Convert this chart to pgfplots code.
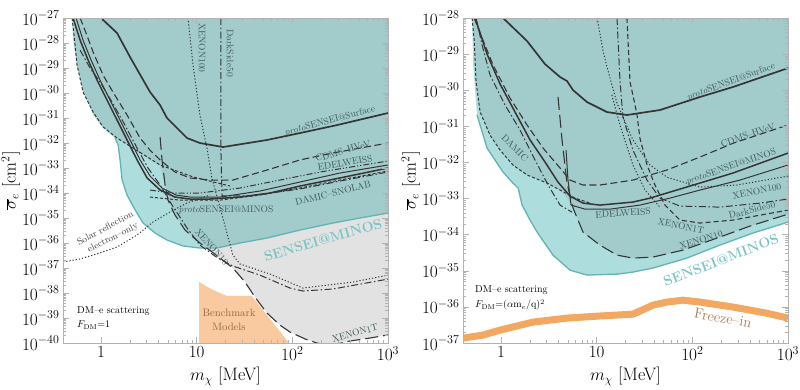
\documentclass[border=0pt]{standalone}
\usepackage{pgfplots}
\pgfplotsset{compat=1.18}
\definecolor{tealD}{HTML}{A2CCCC}
\definecolor{tealL}{HTML}{AEDDDD}
\definecolor{tealE}{HTML}{62B3B3}
\definecolor{grayR}{HTML}{E2E2E2}
\definecolor{orangeB}{HTML}{F9C9A0}
\definecolor{freeze}{HTML}{F2A860}
\definecolor{curve}{HTML}{353535}
\definecolor{lab}{HTML}{3E5858}
\definecolor{senseitxt}{HTML}{7CC4C4}
\definecolor{brownT}{HTML}{9A6A3A}
\definecolor{freezeT}{HTML}{A87A50}
\tikzset{
  solT/.style={draw=curve, line width=1.7pt},
  solt/.style={draw=curve, line width=1.0pt},
  dsh/.style={draw=curve, line width=1.1pt, dash pattern=on 7pt off 3.5pt},
  dshm/.style={draw=curve, line width=1.1pt, dash pattern=on 5pt off 3pt},
  fdsh/.style={draw=curve, line width=1.0pt, dash pattern=on 3pt off 2pt},
  ldsh/.style={draw=curve, line width=1.1pt, dash pattern=on 13pt off 5pt},
  ddot/.style={draw=curve, line width=1.0pt, dash pattern=on 7pt off 2.5pt on 1.5pt off 2.5pt},
  dddot/.style={draw=curve, line width=1.0pt, dash pattern=on 6pt off 2pt on 1.2pt off 2pt on 1.2pt off 2pt},
  dott/.style={draw=curve, line width=1.0pt, dash pattern=on 1.2pt off 2pt},
}
\begin{document}
\begin{tikzpicture}
\path[use as bounding box] (0pt,0pt) rectangle (800pt,389pt);
% ================= LEFT PANEL =================
\begin{axis}[at={(63pt,46pt)}, anchor=south west,
    scale only axis, width=325pt, height=325pt,
    xmode=log, ymode=log, xmin=0.4, xmax=1000,
    xtick={1,10,100,1000}, xticklabels={1,10,$10^2$,$10^3$},
    axis line style={gray!60, line width=0.6pt},
    tick style={gray!60, line width=0.5pt},
    major tick length=6pt, minor tick length=3pt,
    tick label style={font=\fontsize{17}{18}\selectfont, black},
    label style={font=\fontsize{18}{20}\selectfont},
    xlabel={$m_\chi$ [MeV]},
    ylabel={$\overline{\sigma}_e$ [cm$^2$]},
    ylabel shift=-5pt,
    axis on top,
  ymin=1e-40, ymax=1e-27,
  ytick={1e-40,1e-39,1e-38,1e-37,1e-36,1e-35,1e-34,1e-33,1e-32,1e-31,1e-30,1e-29,1e-28,1e-27}]
% benchmark models
\addplot[fill=orangeB, draw=none] coordinates {(10.6,9e-41) (10.6,2.75e-38) (12.5,1.9e-38) (14.8,1.32e-38) (20.7,7.6e-39) (37.8,7.6e-39) (94.4,9e-41)};
% gray region
\addplot[fill=grayR, draw=none] coordinates {(12.8,6.3e-37) (15.5,3.6e-37) (23.9,1e-37) (32.0,2.75e-38) (40.6,6.9e-39) (54.3,1.58e-39) (74.2,5.2e-40) (94.4,2.75e-40) (136,1.45e-40) (181,1e-40) (230,8.3e-41) (292,9.1e-41) (400,1.2e-40) (647,1.58e-40) (1000,2.1e-40) (1000,1e-34) (12.8,1e-34)};
% SENSEI@MINOS projection
\addplot[fill=tealL, draw=none] coordinates {(0.498,1e-27) (0.51,1.3e-28) (0.523,6.3e-29) (0.575,8.3e-30) (0.633,2.75e-30) (0.714,5.2e-31) (0.825,1.32e-31) (1.05,4e-32) (1.40,1.58e-32) (1.51,8.3e-33) (1.58,2.1e-33) (1.66,3.3e-34) (1.87,8.3e-35) (2.27,2.1e-35) (2.75,6.3e-36) (3.67,2.5e-36) (4.89,1.32e-36) (7.19,7.6e-37) (10.8,6.3e-37) (16.3,6.3e-37) (28.3,1e-36) (54.3,1.58e-36) (120,3.3e-36) (266,6.3e-36) (508,1e-35) (1000,1.58e-35) (1000,1e-27)};
% existing constraints
\addplot[fill=tealD, draw=none] coordinates {(0.51,1e-27) (0.535,8.3e-29) (0.561,1.32e-29) (0.648,1.1e-30) (0.825,1.74e-31) (1.05,4.4e-32) (1.47,1.58e-32) (2.16,6.3e-33) (3.25,2.1e-33) (4.14,1.32e-33) (4.67,2.1e-34) (5.01,5.2e-35) (5.93,1.32e-35) (7.55,3.3e-36) (10.8,1e-36) (12.8,6.3e-37) (16.3,6.3e-37) (28.3,1e-36) (54.3,1.58e-36) (120,3.3e-36) (266,6.3e-36) (508,1e-35) (1000,1.58e-35) (1000,1e-27)};
% SENSEI edge
\addplot[draw=tealE, line width=1.3pt] coordinates {(1.40,1.58e-32) (1.51,8.3e-33) (1.58,2.1e-33) (1.66,3.3e-34) (1.87,8.3e-35) (2.27,2.1e-35) (2.75,6.3e-36) (3.67,2.5e-36) (4.89,1.32e-36) (7.19,7.6e-37) (10.8,6.3e-37) (16.3,6.3e-37) (28.3,1e-36) (54.3,1.58e-36) (120,3.3e-36) (266,6.3e-36) (508,1e-35) (1000,1.58e-35)};
% protoSENSEI@Surface
\addplot[solT] coordinates {(1.0,1e-27) (1.47,2.5e-28) (2.01,2.75e-29) (3.25,1.1e-30) (4.14,3.3e-31) (4.89,1e-31) (6.22,4e-32) (7.92,1.58e-32) (10.8,1e-32) (18.8,6.9e-33) (54.3,1.32e-32) (120,2.5e-32) (292,5.2e-32) (1000,1.58e-31)};
% CDMS-HVeV
\addplot[dsh] coordinates {(0.604,1e-27) (0.697,2.5e-28) (0.825,4.4e-29) (1.05,5.2e-30) (1.33,1.1e-30) (1.87,1.32e-31) (2.56,1.58e-32) (3.25,5.2e-33) (4.14,2.1e-33) (5.93,6.9e-34) (8.51,4e-34) (13.8,3.3e-34) (23.9,3.3e-34) (54.3,8.3e-34) (120,2.1e-33) (266,4e-33) (1000,1e-32)};
% DAMIC
\addplot[fdsh] coordinates {(0.498,1e-27) (0.535,8.3e-29) (0.561,1.32e-29) (0.648,1.1e-30) (0.825,1.74e-31) (1.05,4.4e-32) (1.47,1.58e-32) (2.16,6.3e-33) (4.14,1.32e-33) (9.15,4.4e-34) (22.3,1.9e-34)};
% protoSENSEI@MINOS
\addplot[solT, line width=1.5pt] coordinates {(0.51,1e-27) (0.604,1.3e-28) (0.731,2.1e-29) (0.908,3.3e-30) (1.155,5.2e-31) (1.47,8.3e-32) (1.87,1.32e-32) (2.38,2.1e-33) (3.03,4e-34) (4.14,1.32e-34) (5.93,6.9e-35) (8.51,5.75e-35) (13.8,5.75e-35) (28.3,6.9e-35) (58.3,1e-34) (120,1.9e-34) (314,4e-34) (1000,1e-33)};
% second solid
\addplot[solt] coordinates {(0.548,1e-27) (0.648,1.3e-28) (0.786,2.1e-29) (0.976,3.3e-30) (1.24,5.2e-31) (1.58,8.3e-32) (2.01,1.32e-32) (2.56,2.1e-33) (3.25,4.8e-34) (4.34,1.58e-34) (6.08,8.3e-35) (8.51,6.9e-35) (17.5,6.9e-35) (45.8,1.2e-34) (120,2.75e-34) (314,6.3e-34) (1000,1.32e-33)};
% EDELWEISS
\addplot[dddot] coordinates {(3.25,1.32e-34) (5.26,1e-34) (10.8,1e-34) (28.3,1.58e-34) (74.2,3.3e-34) (194,6.9e-34) (1000,1.9e-33)};
% DAMIC-SNOLAB
\addplot[fdsh] coordinates {(3.25,6.9e-35) (6.69,5.2e-35) (17.5,5.2e-35) (45.8,8.3e-35) (120,1.58e-34) (314,3.3e-34) (1000,7.6e-34)};
% DarkSide50
\addplot[ddot] coordinates {(17.9,1e-27) (17.9,5.2e-33) (18.4,7.6e-35) (36.1,7.6e-35) (120,1.45e-34) (314,3e-34) (1000,6.9e-34)};
% XENON100
\addplot[dott] coordinates {(8.11,1e-27) (9.15,1.32e-29) (10.8,1.32e-31) (12.8,6.3e-33) (14.4,4e-34) (17.5,2.75e-35) (20.7,2.5e-36) (23.9,3.3e-37) (28.3,1.45e-37) (58.3,5.75e-38) (129,1.58e-38) (430,2.75e-38) (1000,5.2e-38)};
% XENON10
\addplot[ddot] coordinates {(0.604,5.2e-29) (0.767,1e-29) (0.976,2.75e-30) (1.30,4.4e-31) (1.78,5.2e-32) (2.38,6.3e-33) (3.10,1e-33) (4.14,2.1e-34) (5.52,3.3e-35) (7.92,4e-36) (10.8,8.3e-37) (15.5,3e-37) (23.9,1.2e-37) (45.8,5.2e-38) (94.4,1.58e-38) (129,1.2e-38) (266,1.45e-38) (1000,3.6e-38)};
% XENON1T
\addplot[ldsh] coordinates {(4.14,1.74e-32) (4.34,2.1e-33) (4.67,2.1e-34) (5.01,5.2e-35) (5.93,1.32e-35) (7.55,3.3e-36) (10.8,1e-36) (15.5,3.6e-37) (23.9,1e-37) (32.0,2.75e-38) (40.6,6.9e-39) (54.3,1.58e-39) (74.2,5.2e-40) (94.4,2.75e-40) (136,1.45e-40) (181,1e-40) (230,8.3e-41) (292,9.1e-41) (400,1.2e-40) (647,1.58e-40) (1000,2.1e-40)};
% Solar reflection
\addplot[dott] coordinates {(0.401,1.74e-37) (0.604,2.3e-37) (0.825,3.3e-37) (1.47,6.9e-37) (2.38,2.1e-36) (3.49,6.9e-36) (5.26,1.74e-35) (7.92,4e-35) (13.8,8.3e-35)};
\end{axis}
% ================= RIGHT PANEL =================
\begin{axis}[at={(463pt,46pt)}, anchor=south west,
    scale only axis, width=325pt, height=325pt,
    xmode=log, ymode=log, xmin=0.4, xmax=1000,
    xtick={1,10,100,1000}, xticklabels={1,10,$10^2$,$10^3$},
    axis line style={gray!60, line width=0.6pt},
    tick style={gray!60, line width=0.5pt},
    major tick length=6pt, minor tick length=3pt,
    tick label style={font=\fontsize{17}{18}\selectfont, black},
    label style={font=\fontsize{18}{20}\selectfont},
    xlabel={$m_\chi$ [MeV]},
    ylabel={$\overline{\sigma}_e$ [cm$^2$]},
    ylabel shift=-5pt,
    axis on top,
  ymin=1e-37, ymax=1e-28,
  ytick={1e-37,1e-36,1e-35,1e-34,1e-33,1e-32,1e-31,1e-30,1e-29,1e-28}]
\addplot[fill=tealL, draw=none] coordinates {(0.498,1e-28) (0.51,5e-30) (0.561,2.06e-31) (0.714,2.5e-32) (1.05,5.4e-33) (1.33,2.69e-33) (1.51,1.95e-33) (1.66,6.6e-34) (2.01,2.54e-34) (2.38,1.18e-34) (3.49,2.72e-35) (5.26,1.04e-35) (7.92,7.6e-36) (16.3,8.1e-36) (23.9,9.2e-36) (38.7,1.19e-35) (87.8,2.25e-35) (194,5.15e-35) (430,1.11e-34) (1000,2.23e-34) (1000,1e-28)};
\addplot[fill=tealD, draw=none] coordinates {(0.51,1e-28) (0.523,2.46e-29) (0.548,1.69e-30) (0.604,2.49e-31) (0.767,5.7e-32) (0.976,2.2e-32) (1.33,8.5e-33) (1.87,4.5e-33) (3.03,2.69e-33) (4.14,1.72e-33) (4.89,1.03e-33) (5.65,5.5e-34) (7.19,1.18e-34) (10.8,5.15e-35) (16.3,2.72e-35) (23.9,2.25e-35) (38.7,2.4e-35) (79.8,3.74e-35) (181,8.05e-35) (400,1.73e-34) (1000,3.7e-34) (1000,1e-28)};
\addplot[draw=tealE, line width=1.3pt] coordinates {(0.561,2.06e-31) (0.714,2.5e-32) (1.05,5.4e-33) (1.33,2.69e-33) (1.51,1.95e-33) (1.66,6.6e-34) (2.01,2.54e-34) (2.38,1.18e-34) (3.49,2.72e-35) (5.26,1.04e-35) (7.92,7.6e-36) (16.3,8.1e-36) (23.9,9.2e-36) (38.7,1.19e-35) (87.8,2.25e-35) (194,5.15e-35) (430,1.11e-34) (1000,2.23e-34)};
% freeze-in
\addplot[draw=freeze, line width=7pt] coordinates {(0.401,1.37e-37) (0.648,1.66e-37) (0.976,2.28e-37) (2.16,3.8e-37) (4.89,4.9e-37) (10.8,5.6e-37) (23.9,6.3e-37) (28.3,7.65e-37) (38.7,1.12e-36) (54.3,1.36e-36) (79.8,1.54e-36) (120,1.36e-36) (266,9.9e-37) (601,6.7e-37) (1000,4.9e-37)};
% protoSENSEI@Surface
\addplot[solT] coordinates {(1.05,1e-28) (1.87,2.3e-29) (2.88,5.3e-30) (4.14,2.32e-30) (4.89,1.8e-30) (5.65,1.01e-30) (7.92,4.7e-31) (12.8,2.49e-31) (20.7,2.06e-31) (45.8,2.83e-31) (120,6.5e-31) (266,1.23e-30) (1000,4.1e-30)};
% CDMS-HVeV
\addplot[dsh] coordinates {(0.523,1e-28) (0.604,3.8e-29) (0.825,5e-30) (1.24,6.1e-31) (1.87,1.09e-31) (2.75,2.5e-32) (4.14,7e-33) (5.26,3.25e-33) (7.19,2.37e-33) (10.8,2.37e-33) (23.9,3.25e-33) (54.3,6.2e-33) (120,1.41e-32) (266,3.4e-32) (1000,1.09e-31)};
% protoSENSEI@MINOS
\addplot[solT, line width=1.5pt] coordinates {(0.535,1e-28) (0.714,1.0e-29) (0.976,1.49e-30) (1.40,2.49e-31) (2.01,4.2e-32) (2.88,1.03e-32) (3.94,2.86e-33) (5.26,1.17e-33) (7.19,7.5e-34) (10.8,6.6e-34) (23.9,8e-34) (36.1,1.03e-33) (120,2.69e-33) (266,5.1e-33) (1000,1.82e-32)};
% EDELWEISS
\addplot[solt] coordinates {(4.78,2.2e-32) (5.01,3.25e-33) (5.39,6.6e-34) (7.55,5.1e-34) (13.8,5.1e-34) (28.3,6.6e-34) (58.3,1.03e-33) (120,1.72e-33) (314,3.25e-33) (1000,8.5e-33)};
% DAMIC
\addplot[fdsh] coordinates {(0.498,1e-28) (0.523,2.46e-29) (0.548,1.69e-30) (0.604,2.49e-31) (0.767,5.7e-32) (0.976,2.2e-32) (1.33,8.5e-33) (1.87,4.5e-33) (3.03,2.69e-33) (4.14,1.72e-33) (5.93,1.03e-33) (8.51,7.5e-34)};
% dash-dot (low mass)
\addplot[ddot] coordinates {(0.548,1e-28) (0.633,1.79e-29) (0.767,2.64e-30) (1.10,3.9e-31) (1.58,7.9e-32) (2.27,1.16e-32) (3.10,2.37e-33) (4.14,6.6e-34) (5.52,4.2e-34)};
% XENON10
\addplot[ldsh] coordinates {(3.94,6.5e-31) (4.34,4.2e-32) (4.89,2.69e-33) (5.65,5.5e-34) (7.19,1.18e-34) (10.8,5.15e-35) (16.3,2.72e-35) (23.9,2.25e-35) (38.7,2.4e-35) (79.8,3.74e-35) (181,8.05e-35) (400,1.73e-34) (1000,3.7e-34)};
% XENON1T
\addplot[dshm] coordinates {(20.7,1e-28) (22.3,1.69e-30) (24.5,5.4e-31) (26.4,2.06e-31) (28.3,4.7e-32) (33.6,8.5e-33) (40.6,2.37e-33) (51.7,6.6e-34) (74.2,2.54e-34) (120,2.1e-34) (266,2.54e-34) (1000,4.8e-34)};
% DarkSide50
\addplot[ddot] coordinates {(16.3,1e-28) (17.5,1.92e-30) (18.8,1.81e-31) (23.9,2.2e-32) (33.6,3.25e-33) (45.8,1.03e-33) (74.2,6.2e-34) (194,5.8e-34) (508,7.5e-34) (1000,9.7e-34)};
% XENON100
\addplot[dott] coordinates {(10.1,1e-28) (11.6,1.3e-29) (12.8,4.4e-30) (16.3,4.4e-31) (23.9,4.2e-32) (36.1,8.5e-33) (54.3,3.9e-33) (120,2.08e-33) (292,2.37e-33) (1000,4.2e-33)};
\addplot[dott] coordinates {(14.4,7.4e-31) (17.5,1.09e-31) (23.9,8.5e-33) (32.0,1.72e-33) (45.8,5.8e-34)};
\end{axis}
% ================= LABELS =================
\begin{scope}[every node/.style={font=\fontsize{9.5}{11}\selectfont, text=lab, inner sep=0pt}]
% left
\node[rotate=-90] at (202pt,341pt) {XENON100};
\node[rotate=-90] at (230pt,336pt) {DarkSide50};
\node[rotate=15] at (330pt,268pt) {\textit{proto}SENSEI@Surface};
\node[rotate=16] at (343pt,238pt) {CDMS--HVeV};
\node[rotate=10] at (345pt,226pt) {EDELWEISS};
\node[rotate=14] at (333pt,196pt) {DAMIC--SNOLAB};
\node at (226pt,179pt) {\textit{proto}SENSEI@MINOS};
\node[rotate=-48] at (212pt,142pt) {XENON10};
\node[rotate=15] at (355pt,56pt) {XENON1T};
\node[rotate=28, text=black!75] at (105pt,161pt) {Solar reflection};
\node[rotate=27, text=black!75] at (113pt,151pt) {electron--only};
\node[font=\fontsize{10.7}{12}\selectfont, text=brownT] at (229pt,76pt) {Benchmark};
\node[font=\fontsize{10.7}{12}\selectfont, text=brownT] at (229pt,62pt) {Models};
\node[font=\fontsize{10}{12}\selectfont, text=black, anchor=west] at (77pt,78pt) {DM--e scattering};
\node[font=\fontsize{10}{12}\selectfont, text=black, anchor=west] at (77pt,64pt) {$F_{\mathrm{DM}}$=1};
\node[rotate=16, font=\bfseries\fontsize{14}{16}\selectfont, text=senseitxt] at (323pt,149pt) {SENSEI@MINOS};
% right
\node[rotate=20] at (731pt,307pt) {\textit{proto}SENSEI@Surface};
\node[rotate=19] at (748pt,254pt) {CDMS--HVeV};
\node[rotate=19] at (731pt,222pt) {\textit{proto}SENSEI@MINOS};
\node[rotate=12] at (757pt,198pt) {XENON100};
\node[rotate=14] at (752pt,179pt) {DarkSide50};
\node[rotate=-12] at (681pt,163pt) {XENON1T};
\node[rotate=18] at (701pt,149pt) {XENON10};
\node[rotate=4] at (623pt,176pt) {EDELWEISS};
\node[rotate=-45] at (515pt,241pt) {DAMIC};
\node[rotate=21, font=\bfseries\fontsize{14}{16}\selectfont, text=senseitxt] at (721pt,129pt) {SENSEI@MINOS};
\node[font=\fontsize{10}{12}\selectfont, text=black, anchor=west] at (475pt,99pt) {DM--e scattering};
\node[font=\fontsize{10}{12}\selectfont, text=black, anchor=west] at (475pt,84pt) {$F_{\mathrm{DM}}$=($\alpha$m$_e$/q)$^2$};
\node[rotate=-10, font=\fontsize{14.5}{16}\selectfont, text=freezeT] at (723pt,71pt) {Freeze--in};
\end{scope}
\end{tikzpicture}
\end{document}
